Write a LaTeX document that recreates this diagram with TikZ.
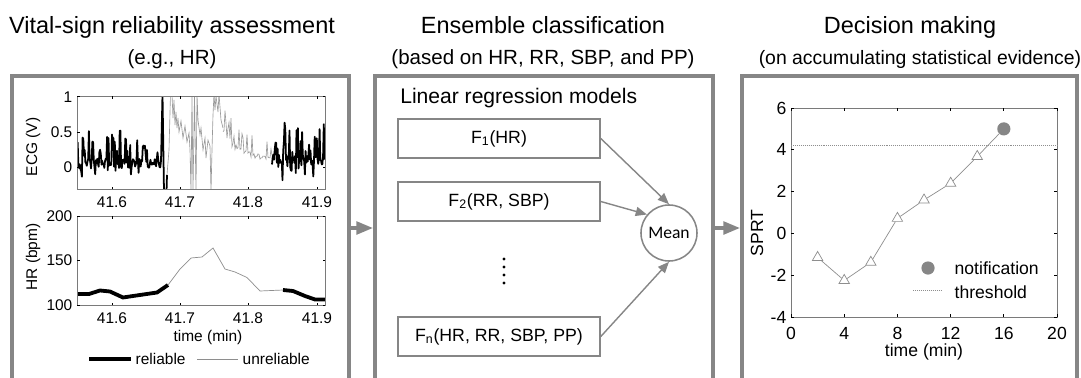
\documentclass[tikz,border=0pt]{standalone}
\usepackage{fontspec}
\setmainfont{Liberation Sans}
\newfontfamily\meanfont{Carlito}
\usetikzlibrary{arrows.meta,shapes.geometric}

\definecolor{boxgray}{HTML}{868686}
\definecolor{tracegray}{HTML}{8E8E8E}
\definecolor{ecggray}{HTML}{9A9A9A}
\definecolor{axisgray}{HTML}{7A7A7A}

\tikzset{
	panel/.style={
		draw=boxgray,
		line width=2.6pt,
		minimum width=8.4cm,
		minimum height=7.6cm
	},
	flow/.style={-{Triangle[length=12pt,width=9pt]}, draw=boxgray, line width=2.6pt},
	title/.style={anchor=base, font=\fontsize{16.7}{18}\selectfont},
	subtitle/.style={anchor=base, font=\fontsize{14.6}{16}\selectfont},
	model/.style={
		draw=boxgray,
		line width=1.1pt,
		minimum width=5.05cm,
		minimum height=0.97cm,
		font=\fontsize{12.6}{14}\selectfont
	},
	vote/.style={-{Triangle[length=8pt,width=6.5pt]}, draw=boxgray, line width=1pt},
	axbox/.style={draw=axisgray, line width=0.5pt},
	tick/.style={line width=0.5pt},
	lab/.style={font=\fontsize{11}{12}\selectfont, inner sep=1pt},
	rlab/.style={font=\fontsize{12.5}{14}\selectfont, inner sep=1pt},
	ecg ok/.style={line width=1.25pt, line join=round},
	ecg bad/.style={draw=ecggray, line width=0.45pt},
	hr ok/.style={line width=2.7pt},
	hr bad/.style={draw=tracegray, line width=0.5pt},
	tri/.style={
		draw=tracegray,
		fill=white,
		regular polygon,
		regular polygon sides=3,
		minimum size=0.3cm,
		inner sep=0pt,
		line width=0.5pt
	}
}

\begin{document}
\begin{tikzpicture}[x=0.025cm, y=-0.025cm]
\useasboundingbox (0,0) rectangle (1081,377);

% three panels, open at the bottom
\node[panel, minimum width=8.425cm] (vital) at (180.5,228) {};
\node[panel, minimum width=8.45cm] (ensemble) at (544,228) {};
\node[panel, minimum width=8.375cm] (decision) at (909.5,228) {};

\node[title] (t1) at (172,33) {Vital-sign reliability assessment};
\node[subtitle] (s1) at (172,64) {(e.g., HR)};
\node[title] (t2) at (543,33) {Ensemble classification};
\node[subtitle] (s2) at (543,64) {(based on HR, RR, SBP, and PP)};
\node[title] (t3) at (910,33) {Decision making};
\node[subtitle, font=\fontsize{13.8}{16}\selectfont] (s3) at (920,64) {(on accumulating statistical evidence)};

\draw[flow] (vital.east) -- (ensemble.west);
\draw[flow] (ensemble.east) -- (decision.west);

%% ---- ECG plot ----
\pgfmathsetseed{23}
\begin{scope}
\clip (77,96) rectangle (325,189);
\draw[ecg ok] plot[samples at={77,77.7,...,161}] (\x,{167-70*(0.05+0.07*rand+(rnd>0.7)*(0.12+0.33*rnd)-(rnd>0.8)*(0.05+0.12*rnd))});
\draw[ecg ok] (161,162) -- (162.5,94) -- (164,192) -- (166.5,192) -- (167,175);
\draw[ecg bad] (167,175) -- (169,150) -- (170.5,94) -- (172,94) -- (173,118) -- (174,100)
	-- (175,125) -- (176,112) -- (177,128) -- (178,118) -- (179,132) -- (181,121) -- (183,138)
	-- (185,126) -- (187,142) -- (189,133) -- (190,150) -- (191,192) -- (192,94) -- (193,192)
	-- (194.5,94) -- (196,192) -- (197,94) -- (198,120) -- (200,135) -- (201,128) -- (203,150)
	-- (205,138) -- (206,158) -- (208,140) -- (210,146) -- (211,192) -- (212,150) -- (213,115)
	-- (214,94) -- (215,110) -- (216,96) -- (218,112) -- (219,94) -- (221,120) -- (223,128);
\draw[ecg bad] plot[samples at={223,224,...,272}] (\x,{167-70*(0.1+0.42*exp(-(\x-223)/16)+0.05*rand+(rnd>0.65)*(0.12+0.22*rnd))});
\draw[ecg ok] plot[samples at={272,272.7,...,325}] (\x,{167-70*(0.1+0.08*rand+(rnd>0.7)*(0.1+0.4*rnd)-(rnd>0.82)*(0.08+0.2*rnd))});
\end{scope}
\draw[axbox] (77,96) rectangle (325,189);
\foreach \tx in {112,180,248,317} {
	\draw[tick] (\tx,189) -- (\tx,186.5);
	\draw[tick] (\tx,96) -- (\tx,98.5);
}
\foreach \ty in {96,132,167} {
	\draw[tick] (77,\ty) -- (79.5,\ty);
	\draw[tick] (325,\ty) -- (322.5,\ty);
}
\node[lab, anchor=east] (e1) at (74,97) {1};
\node[lab, anchor=east] (e05) at (74,132) {0.5};
\node[lab, anchor=east] (e0) at (74,167) {0};
\node[lab] (ex1) at (112,202) {41.6};
\node[lab] (ex2) at (180,202) {41.7};
\node[lab] (ex3) at (248,202) {41.8};
\node[lab] (ex4) at (317,202) {41.9};
\node[lab, rotate=90] (ecglab) at (33,147) {ECG (V)};

%% ---- HR plot ----
\draw[hr ok] (77,294) -- (89,294) -- (100,290.5) -- (110,291.5) -- (123,297.5) -- (133,296)
	-- (157,292.5) -- (168,285);
\draw[hr bad] (168,285) -- (180,269) -- (191,258) -- (202,257) -- (213,248) -- (225,269)
	-- (235,272) -- (247,277.5) -- (260,291) -- (283,290);
\draw[hr ok] (283,290) -- (293,291) -- (305,296) -- (315,299.5) -- (325,299.5);
\draw[axbox] (77,216) rectangle (325,305);
\foreach \tx in {112,180,248,317} {
	\draw[tick] (\tx,305) -- (\tx,302.5);
	\draw[tick] (\tx,216) -- (\tx,218.5);
}
\foreach \ty in {216,260,305} {
	\draw[tick] (77,\ty) -- (79.5,\ty);
	\draw[tick] (325,\ty) -- (322.5,\ty);
}
\node[lab, anchor=east] (h200) at (74,216) {200};
\node[lab, anchor=east] (h150) at (74,260) {150};
\node[lab, anchor=east] (h100) at (74,305) {100};
\node[lab] (hx1) at (112,318) {41.6};
\node[lab] (hx2) at (180,318) {41.7};
\node[lab] (hx3) at (248,318) {41.8};
\node[lab] (hx4) at (317,318) {41.9};
\node[lab, rotate=90] (hrlab) at (33,257) {HR (bpm)};
\node[lab] (hrtime) at (208,337) {time (min)};

% legend
\coordinate (okA) at (89,359);
\coordinate (okB) at (131,359);
\draw[line width=3pt] (okA) -- (okB);
\node[lab, anchor=west] (okname) at (134,359) {reliable};
\coordinate (badA) at (197,359);
\coordinate (badB) at (238,359);
\draw[hr bad] (badA) -- (badB);
\node[lab, anchor=west] (badname) at (241,359) {unreliable};

%% ---- ensemble ----
\node[anchor=base west, font=\fontsize{15}{16}\selectfont, inner sep=0pt] (lrm) at (400,103) {Linear regression models};
\node[model] (f1) at (499,138.5) {F\textsubscript{1}(HR)};
\node[model] (f2) at (499,201.5) {F\textsubscript{2}(RR, SBP)};
\node[model] (fn) at (499,336.5) {F\textsubscript{n}(HR, RR, SBP, PP)};
\foreach \dy in {259,267,275,283}
	\fill (504,\dy) circle (1.6);
\node[circle, draw=boxgray, line width=1.1pt, minimum size=1.4cm, inner sep=0pt,
	font=\meanfont\fontsize{12.5}{14}\selectfont] (mean) at (669,233) {Mean};
\draw[vote] (f1.east) -- (mean.north);
\draw[vote] (f2.east) -- (mean.140);
\draw[vote] (fn.east) -- (mean.south);

%% ---- SPRT plot ----
\draw[axbox] (791,108) rectangle (1057,317);
\foreach \tx/\tl in {791/0,844.2/4,897.4/8,950.6/12,1003.8/16,1057/20} {
	\draw[tick] (\tx,317) -- (\tx,314);
	\draw[tick] (\tx,108) -- (\tx,111);
	\node[rlab] (sx\tl) at (\tx,333) {\tl};
}
\foreach \ty/\tl in {108/6,149.8/4,191.6/2,233.4/0,275.2/-2,317/-4} {
	\draw[tick] (791,\ty) -- (794,\ty);
	\draw[tick] (1057,\ty) -- (1054,\ty);
	\node[rlab, anchor=east] (sy\tl) at (788,\ty) {\tl};
}
\node[rlab, rotate=90] (sprtlab) at (757,233) {SPRT};
\node[rlab] (sprttime) at (924,352) {time (min)};

\begin{scope}[shift={(791,233.4)}, x=0.3325cm, y=0.5225cm]
	\coordinate (thrA) at (0,4.2);
	\coordinate (thrB) at (20,4.2);
	\draw[draw=tracegray, line width=0.4pt, densely dotted] (thrA) -- (thrB);
	\node[tri] (p2) at (2,-1.15) {};
	\node[tri] (p4) at (4,-2.25) {};
	\node[tri] (p6) at (6,-1.38) {};
	\node[tri] (p8) at (8,0.72) {};
	\node[tri] (p10) at (10,1.6) {};
	\node[tri] (p12) at (12,2.4) {};
	\node[tri] (p14) at (14,3.68) {};
	\node[circle, fill=boxgray, minimum size=0.33cm, inner sep=0pt] (p16) at (16,5.0) {};
	\draw[draw=tracegray, line width=0.5pt] (p2) -- (p4) -- (p6) -- (p8) -- (p10) -- (p12) -- (p14) -- (p16);
\end{scope}

% legend
\node[circle, fill=boxgray, minimum size=0.33cm, inner sep=0pt] (notemark) at (928,268) {};
\node[rlab, anchor=west] (notename) at (953,268) {notification};
\coordinate (thA) at (913,290);
\coordinate (thB) at (942,290);
\draw[draw=tracegray, line width=0.4pt, densely dotted] (thA) -- (thB);
\node[rlab, anchor=west] (thname) at (953,292) {threshold};

\end{tikzpicture}
\end{document}
